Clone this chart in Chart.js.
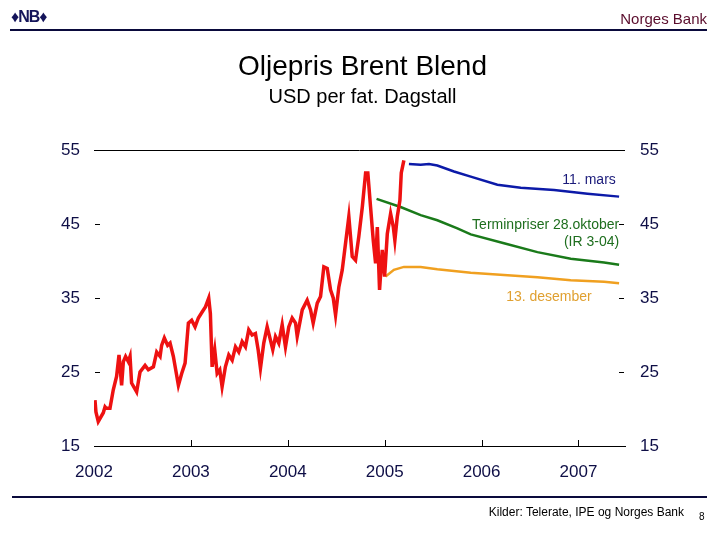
<!DOCTYPE html>
<html>
<head>
<meta charset="utf-8">
<script src="https://cdn.jsdelivr.net/npm/chart.js@4"></script>
<style>
  html, body { margin: 0; padding: 0; background: #fff; }
  #wrap { position: relative; width: 720px; height: 540px; font-family: 'Liberation Sans', Arial, sans-serif; }
  #wrap div { position: absolute; white-space: nowrap; line-height: 1; }
  canvas { position: absolute; left: 0; top: 0; }
  .logo { left: 11px; top: 9px; font-size: 16px; font-weight: bold; color: #14145a; letter-spacing: -1px; }
  .bank { right: 13px; top: 11px; font-size: 15px; color: #5a0c2c; }
  .rule { height: 2px; background: #0a0a3c; }
  .title { left: 0; width: 725px; text-align: center; top: 52px; font-size: 28px; color: #000; }
  .sub { left: 0; width: 725px; text-align: center; top: 86px; font-size: 20px; color: #000; }
  .src { right: 36px; top: 506px; font-size: 12px; color: #000; }
  .page { left: 699px; top: 512px; font-size: 10px; color: #000; }
</style>
</head>
<body>
<div id="wrap">
  <canvas id="myCanvas" width="720" height="540"></canvas>
  <div class="logo">&#9830;NB&#9830;</div>
  <div class="bank">Norges Bank</div>
  <div class="rule" style="left:10px; width:697px; top:29px;"></div>
  <div class="title">Oljepris Brent Blend</div>
  <div class="sub">USD per fat. Dagstall</div>
  <div class="rule" style="left:12px; width:695px; top:496px;"></div>
  <div class="src">Kilder: Telerate, IPE og Norges Bank</div>
  <div class="page">8</div>
</div>
<script>
// Brent spot (decimal year, USD per barrel)
const brentDates = [
  2002.010, 2002.020, 2002.044, 2002.096, 2002.114, 2002.127, 2002.165, 2002.199, 2002.233, 2002.258,
  2002.285, 2002.303, 2002.326, 2002.354, 2002.372, 2002.388, 2002.440, 2002.475, 2002.527, 2002.561,
  2002.613, 2002.647, 2002.682, 2002.698, 2002.726, 2002.760, 2002.785, 2002.819, 2002.843, 2002.871,
  2002.905, 2002.940, 2002.974, 2003.008, 2003.043, 2003.077, 2003.116, 2003.150, 2003.184, 2003.201,
  2003.219, 2003.246, 2003.271, 2003.298, 2003.322, 2003.356, 2003.391, 2003.426, 2003.460, 2003.494,
  2003.529, 2003.563, 2003.597, 2003.632, 2003.666, 2003.694, 2003.718, 2003.752, 2003.787, 2003.821,
  2003.845, 2003.873, 2003.907, 2003.942, 2003.976, 2004.010, 2004.045, 2004.080, 2004.097, 2004.149,
  2004.200, 2004.235, 2004.262, 2004.304, 2004.338, 2004.372, 2004.407, 2004.441, 2004.469, 2004.493,
  2004.527, 2004.562, 2004.596, 2004.630, 2004.665, 2004.699, 2004.733, 2004.769, 2004.803, 2004.826,
  2004.854, 2004.882, 2004.906, 2004.924, 2004.947, 2004.975, 2004.999, 2005.027, 2005.061, 2005.089,
  2005.105, 2005.130, 2005.157, 2005.171, 2005.198
];
const brentValues = [
  21.2, 19.6, 18.3, 19.5, 20.3, 20.1, 20.1, 22.6, 24.4, 27.3,
  23.2, 26.4, 27.1, 26.4, 27.1, 23.5, 22.3, 25.0, 25.9, 25.3,
  25.7, 27.7, 27.1, 28.6, 29.6, 28.6, 28.9, 27.1, 25.3, 23.2,
  24.8, 26.2, 31.6, 32.0, 31.1, 32.3, 33.1, 33.8, 35.0, 32.9,
  25.7, 28.0, 24.8, 25.3, 23.0, 25.7, 27.3, 26.6, 28.4, 27.7,
  29.1, 28.4, 30.7, 30.0, 30.2, 28.0, 25.5, 28.9, 31.1, 29.3,
  28.0, 29.8, 28.9, 31.4, 28.4, 31.1, 32.3, 31.6, 29.8, 33.4,
  34.7, 33.4, 31.6, 34.3, 35.2, 39.2, 39.0, 36.1, 35.0, 32.7,
  36.5, 38.8, 42.4, 46.0, 40.6, 40.1, 43.3, 47.3, 51.9, 51.9,
  47.3, 42.8, 39.7, 44.6, 36.1, 41.5, 37.9, 43.7, 46.4, 44.6,
  42.8, 46.0, 48.2, 51.9, 53.6
];

// forward curves
const marsDates = [2005.250, 2005.371, 2005.457, 2005.543, 2005.715, 2005.888, 2006.163, 2006.404, 2006.748, 2007.093, 2007.419];
const marsValues = [53.1, 53.0, 53.1, 52.9, 52.1, 51.4, 50.3, 49.9, 49.6, 49.1, 48.7];
const oktDates = [2004.916, 2005.164, 2005.371, 2005.543, 2005.750, 2005.888, 2006.231, 2006.576, 2006.920, 2007.264, 2007.419];
const oktValues = [48.4, 47.3, 46.2, 45.5, 44.4, 43.6, 42.4, 41.2, 40.3, 39.8, 39.5];
const desDates = [2005.009, 2005.095, 2005.198, 2005.371, 2005.543, 2005.888, 2006.231, 2006.576, 2006.920, 2007.264, 2007.419];
const desValues = [37.9, 38.8, 39.2, 39.2, 38.9, 38.4, 38.1, 37.8, 37.4, 37.2, 37.0];

const yearTicks = [2002, 2003, 2004, 2005, 2006, 2007];
const valueTicks = [15, 25, 35, 45, 55];

const toPoints = (xs, ys) => xs.map((x, i) => ({x: x, y: ys[i]}));

const FONT = "'Liberation Sans', Arial, sans-serif";
const NAVY = '#0e0e46';

// curve labels: [text, x, y, colour]
const curveLabels = [
  ['11. mars', 2007.385, 50.9, '#1a1a7a'],
  ['Terminpriser 28.oktober', 2007.42, 44.9, '#1e6e1e'],
  ['(IR 3-04)', 2007.42, 42.6, '#1e6e1e'],
  ['13. desember', 2007.137, 35.1, '#e0a030']
];

// inside tick marks, top frame line and curve labels
const frame = {
  id: 'frame',
  afterDatasetsDraw(chart) {
    const c = chart.ctx;
    const a = chart.chartArea;
    const x = chart.scales.x;
    const y = chart.scales.y;
    c.save();
    c.strokeStyle = '#000';
    c.lineWidth = 1;
    c.beginPath();
    c.moveTo(a.left, Math.round(y.getPixelForValue(55)) + 0.5);
    c.lineTo(a.right, Math.round(y.getPixelForValue(55)) + 0.5);
    valueTicks.slice(1, -1).forEach(v => {
      const py = Math.round(y.getPixelForValue(v)) + 0.5;
      c.moveTo(a.left + 1, py);
      c.lineTo(a.left + 6, py);
      c.moveTo(a.right - 6, py);
      c.lineTo(a.right - 1, py);
    });
    yearTicks.slice(1).forEach(v => {
      const px = Math.round(x.getPixelForValue(v)) + 0.5;
      c.moveTo(px, a.bottom);
      c.lineTo(px, a.bottom - 6);
    });
    c.stroke();

    c.font = '14px ' + FONT;
    c.textAlign = 'right';
    c.textBaseline = 'middle';
    curveLabels.forEach(l => {
      c.fillStyle = l[3];
      c.fillText(l[0], x.getPixelForValue(l[1]), y.getPixelForValue(l[2]));
    });
    c.restore();
  }
};

const ctx = document.getElementById('myCanvas').getContext('2d');

const tickFont = {family: FONT, size: 17};

const myChart = new Chart(ctx, {
  type: 'line',
  data: {
    datasets: [
      {data: toPoints(brentDates, brentValues), borderColor: '#ee1111', borderWidth: 3.5},
      {data: toPoints(marsDates, marsValues), borderColor: '#0c1aa8', borderWidth: 2.5},
      {data: toPoints(oktDates, oktValues), borderColor: '#1a7a1a', borderWidth: 2.5},
      {data: toPoints(desDates, desValues), borderColor: '#f0a020', borderWidth: 2.5}
    ]
  },
  options: {
    responsive: false,
    animation: false,
    devicePixelRatio: 1,
    elements: {point: {radius: 0}, line: {tension: 0}},
    layout: {padding: {top: 150, left: 0, right: 0, bottom: 0}},
    plugins: {legend: false, tooltip: {enabled: false}},
    scales: {
      x: {
        type: 'linear',
        min: 2002,
        max: 2007.48,
        afterBuildTicks: s => { s.ticks = yearTicks.map(v => ({value: v})); },
        afterFit: s => { s.height = 94; },
        grid: {display: false, drawTicks: false},
        border: {display: true, color: '#000', width: 1},
        ticks: {font: tickFont, color: NAVY, padding: 16, maxRotation: 0, callback: v => String(v)}
      },
      y: {
        position: 'left',
        min: 15,
        max: 55,
        afterBuildTicks: s => { s.ticks = valueTicks.map(v => ({value: v})); },
        afterFit: s => { s.width = 94; },
        grid: {display: false, drawTicks: false},
        border: {display: false},
        ticks: {font: tickFont, color: NAVY, padding: 14}
      },
      y2: {
        position: 'right',
        min: 15,
        max: 55,
        afterBuildTicks: s => { s.ticks = valueTicks.map(v => ({value: v})); },
        afterFit: s => { s.width = 95; },
        grid: {display: false, drawTicks: false},
        border: {display: false},
        ticks: {font: tickFont, color: NAVY, padding: 15}
      }
    }
  },
  plugins: [frame]
});
</script>
</body>
</html>
